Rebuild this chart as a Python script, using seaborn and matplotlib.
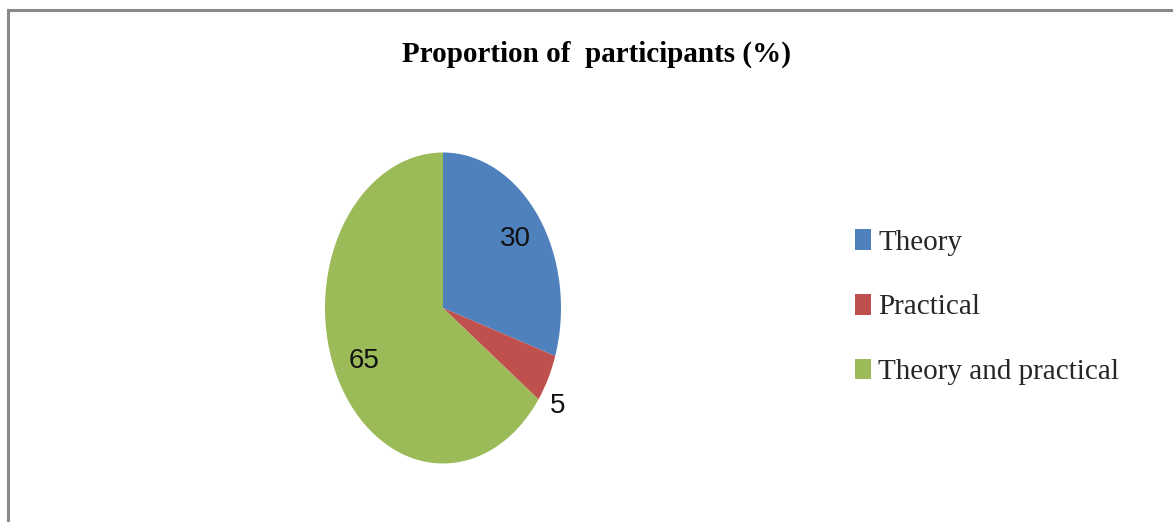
import matplotlib
matplotlib.use("Agg")
import matplotlib.pyplot as plt
from matplotlib.patches import Rectangle
import numpy as np
import seaborn as sns

# Survey answers: type of training received (% of participants)
categories = ["Theory", "Practical", "Theory and practical"]
values = [30, 5, 65]
colors = ["#4F81BD", "#C0504D", "#9BBB59"]
title = "Proportion of  participants (%)"

sns.set_theme(style="white")
palette = sns.color_palette(colors)

num_font = "Liberation Sans"
serif_font = "Liberation Serif"

W, H = 1173, 522
fig = plt.figure(figsize=(W / 100, H / 100), dpi=100)
fig.patch.set_facecolor("white")

# outer chart frame (runs past right and bottom edges)
fig.add_artist(Rectangle((7.5 / W, -0.2), 1.3, (H - 9.5) / H + 0.2,
                         transform=fig.transFigure, fill=False,
                         edgecolor="#898989", linewidth=2.2))

# pie axes: stretched vertically, so the pie is an ellipse
cx, cy, rx, ry = 443, 308, 118, 155.5
ax = fig.add_axes([(cx - rx) / W, (H - cy - ry) / H, 2 * rx / W, 2 * ry / H])
wedges, _ = ax.pie(values, colors=palette, startangle=90, counterclock=False,
                   wedgeprops=dict(linewidth=0))
ax.set_aspect("auto")
ax.set_xlim(-1, 1)
ax.set_ylim(-1, 1)
ax.axis("off")

# value labels: inside for large slices, just outside for small ones
for w, v in zip(wedges, values):
    mid = (w.theta1 + w.theta2) / 2
    if v >= 10:
        r, ang = 0.755, mid
    else:
        r, ang = 1.16, mid - 6
    a = np.deg2rad(ang)
    ax.text(r * np.cos(a), r * np.sin(a), f"{v}", ha="center", va="center",
            fontsize=20, family=num_font, color="#111111")

fig.text(596 / W, 1 - 62 / H, title, ha="center", va="baseline",
         fontsize=21, family=serif_font, fontweight="bold", color="black")

fig.legend(wedges, categories, loc="upper left",
           bbox_to_anchor=(855 / W, 1 - 229 / H), frameon=False,
           prop=dict(family=serif_font, size=21),
           handlelength=0.55, handleheight=0.72, handletextpad=0.24,
           labelspacing=1.31, borderpad=0, borderaxespad=0)

fig.savefig("out.png", dpi=100, facecolor="white")
